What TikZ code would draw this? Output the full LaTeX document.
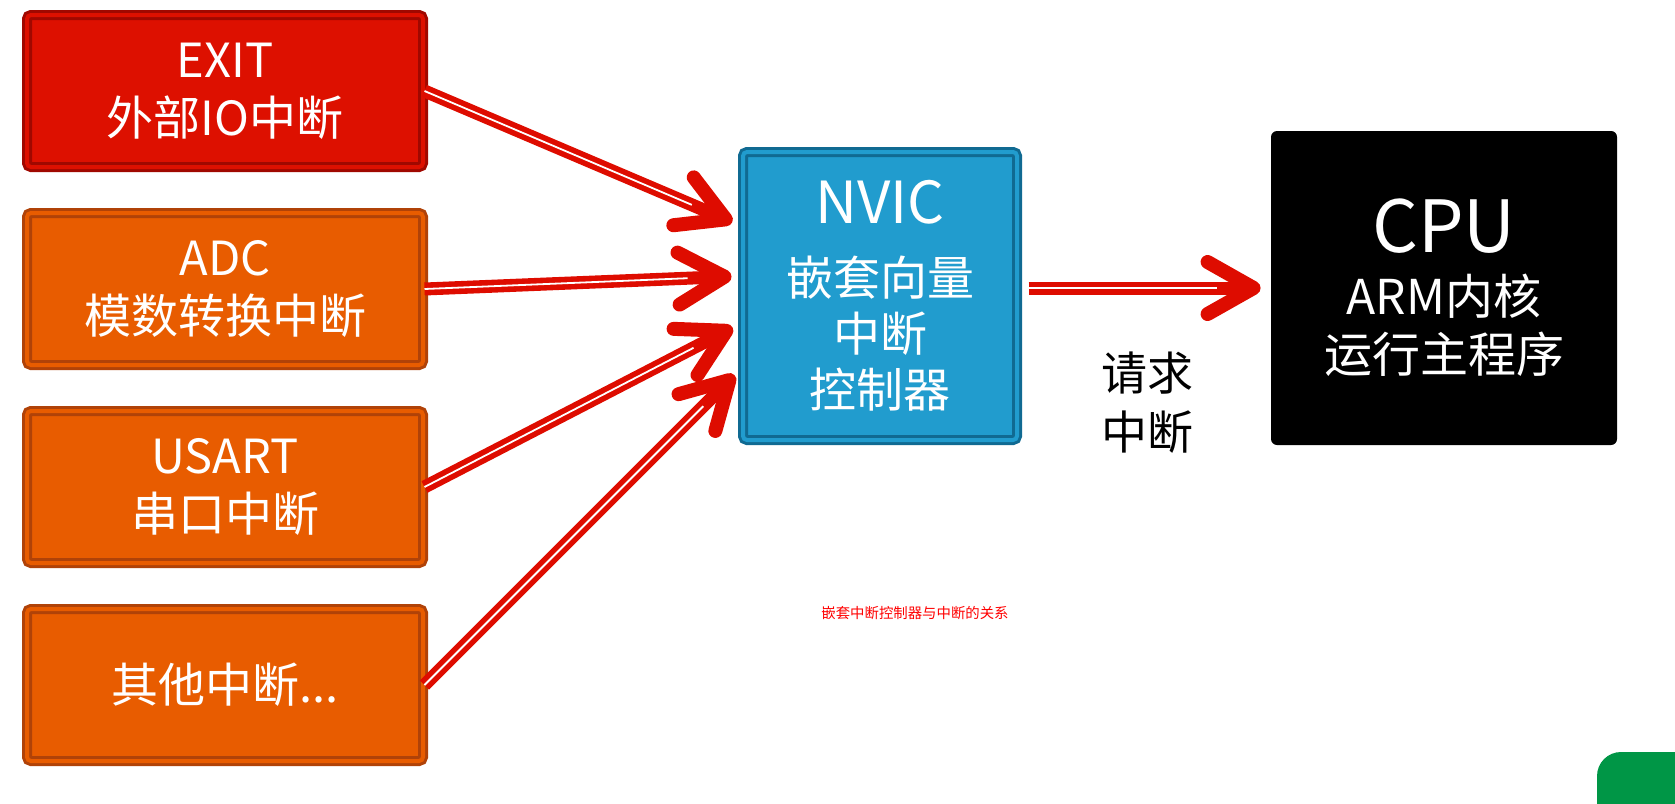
\documentclass[tikz,border=0pt]{standalone}
\usepackage{fontspec}
\setmainfont{Noto Sans CJK SC}
\definecolor{exitred}{RGB}{221, 16, 0}
\definecolor{exitedge}{RGB}{160, 8, 0}
\definecolor{srcorange}{RGB}{232, 92, 0}
\definecolor{srcedge}{RGB}{176, 66, 8}
\definecolor{nvicblue}{RGB}{33, 156, 206}
\definecolor{nvicedge}{RGB}{16, 106, 146}
\definecolor{arrowred}{RGB}{222, 12, 0}
\definecolor{badgegreen}{RGB}{0, 150, 70}
\usetikzlibrary{arrows.meta, shadows}

\begin{document}
\begin{tikzpicture}[
      x=0.5pt, y=-0.5pt,
      srcbox/.style={rectangle, draw=srcedge, fill=srcorange, double=srcorange, line width=1.5pt, double distance=2pt, rounded corners=2pt, minimum width=198pt, minimum height=76pt, text=white, align=center, font=\fontsize{23.5}{29}\selectfont, drop shadow={opacity=0.25, shadow xshift=1pt, shadow yshift=-1.5pt}},
      nvicbox/.style={rectangle, draw=nvicedge, fill=nvicblue, double=nvicblue, line width=1.5pt, double distance=2pt, rounded corners=2pt, minimum width=137pt, minimum height=144pt, text=white, align=center, font=\fontsize{23.5}{28}\selectfont, drop shadow={opacity=0.25, shadow xshift=1pt, shadow yshift=-1.5pt}},
      cpubox/.style={rectangle, fill=black, rounded corners=3pt, minimum width=173pt, minimum height=157pt, text=white, align=center, font=\fontsize{24}{29}\selectfont},
      reqtext/.style={align=center, font=\fontsize{23}{29.5}\selectfont},
      captext/.style={text=red, font=\fontsize{7.2}{9}\selectfont},
      irq/.style={draw=arrowred, line width=6.5pt, -{Straight Barb[length=23pt, width=26pt, line width=7pt, round]}, shorten >=5pt, postaction={draw=white, line width=0.9pt, -, shorten >=27pt}}
    ]
      \useasboundingbox (0,0) rectangle (1675,803);

      % interrupt sources
      \node[srcbox, draw=exitedge, fill=exitred, double=exitred] (exit) at (225,91) {EXIT\\外部IO中断};
      \node[srcbox] (adc) at (225,289) {ADC\\模数转换中断};
      \node[srcbox] (usart) at (225,487) {USART\\串口中断};
      \node[srcbox] (other) at (225,685) {其他中断...};

      \node[nvicbox] (nvic) at (880,296) {\fontsize{29}{29}\selectfont NVIC\\[8pt]嵌套向量\\中断\\控制器};
      \node[cpubox] (cpu) at (1444,288) {\fontsize{36}{36}\selectfont CPU\\[2pt]ARM内核\\运行主程序};

      \node[reqtext] (req) at (1147,403) {请求\\中断};
      \node[captext] (cap) at (915,613) {嵌套中断控制器与中断的关系};

      \draw[irq] (exit.east) -- ([yshift=35pt]nvic.west);
      \draw[irq] (adc.east) -- ([yshift=10pt]nvic.west);
      \draw[irq] (usart.east) -- ([yshift=-13.5pt]nvic.west);
      \draw[irq] (other.east) -- ([yshift=-36pt]nvic.west);
      \draw[irq, shorten <=5pt] (nvic.east |- cpu.west) -- (cpu.west);

      % corner badge
      \begin{scope}
        \clip (0,0) rectangle (1675,803);
        \fill[badgegreen, rounded corners=12pt] (1597,752) rectangle (1700,830);
      \end{scope}
    \end{tikzpicture}
\end{document}
